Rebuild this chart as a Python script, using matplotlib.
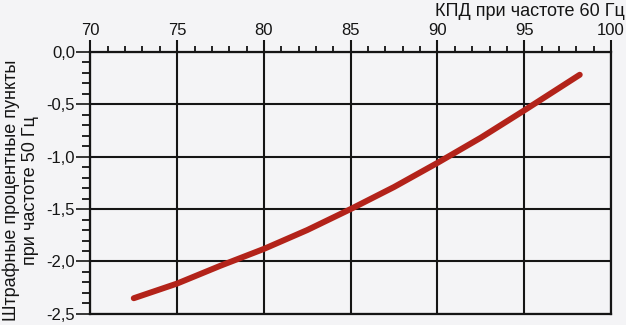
import matplotlib
matplotlib.use('Agg')
import matplotlib.pyplot as plt
from matplotlib.ticker import MultipleLocator, FuncFormatter

BG_COLOR = '#f4f4f6'
LINE_COLOR = '#b3231a'
INK = '#151515'

efficiency_60hz = [72.5, 75, 77.5, 80, 82.5, 85, 87.5, 90, 92.5, 95, 98.2]
penalty_50hz = [-2.35, -2.21, -2.04, -1.88, -1.70, -1.50, -1.29, -1.06, -0.82, -0.56, -0.22]

x_ticks = [70, 75, 80, 85, 90, 95, 100]
y_ticks = [-2.5, -2.0, -1.5, -1.0, -0.5, 0.0]

X_LABEL = 'КПД при частоте 60 Гц'
Y_LABEL = 'Штрафные процентные пункты\nпри частоте 50 Гц'


def comma_format(value, pos):
    if abs(value) < 1e-9:
        return '0,0'
    return ('%.1f' % value).replace('.', ',')


plt.rcParams['font.family'] = ['Liberation Sans', 'DejaVu Sans']
plt.rcParams['font.size'] = 12

fig = plt.figure(figsize=(6.26, 3.25), dpi=100, facecolor=BG_COLOR)
ax = fig.add_axes([0.1444, 0.034, 0.8316, 0.807], facecolor=BG_COLOR)

ax.plot(efficiency_60hz, penalty_50hz, color=LINE_COLOR, linewidth=4.3,
        solid_capstyle='round', zorder=3)

ax.set_xlim(70, 100)
ax.set_ylim(-2.5, 0)
ax.set_xticks(x_ticks)
ax.set_yticks(y_ticks)
ax.xaxis.set_minor_locator(MultipleLocator(1))
ax.yaxis.set_minor_locator(MultipleLocator(0.1))
ax.yaxis.set_major_formatter(FuncFormatter(comma_format))

ax.xaxis.tick_top()
ax.tick_params(axis='x', which='major', direction='out', length=9, width=1.5,
               pad=1, labelsize=12, colors=INK)
ax.tick_params(axis='x', which='minor', direction='out', length=4.5, width=1.2)
ax.tick_params(axis='y', which='major', direction='out', length=10, width=1.2,
               pad=1, labelsize=12, colors=INK)
ax.tick_params(axis='y', which='minor', direction='out', length=5.5, width=1.2)

ax.grid(True, which='major', color=INK, linewidth=1.5)
for spine in ax.spines.values():
    spine.set_linewidth(1.6)
    spine.set_color(INK)

fig.text(0.998, 0.99, X_LABEL, ha='right', va='top', fontsize=13, color=INK)
fig.text(0.033, 0.415, Y_LABEL, ha='center', va='center', rotation=90,
         multialignment='center', fontsize=13, color=INK, linespacing=1.1)

fig.savefig('out.png', dpi=100, facecolor=BG_COLOR)
